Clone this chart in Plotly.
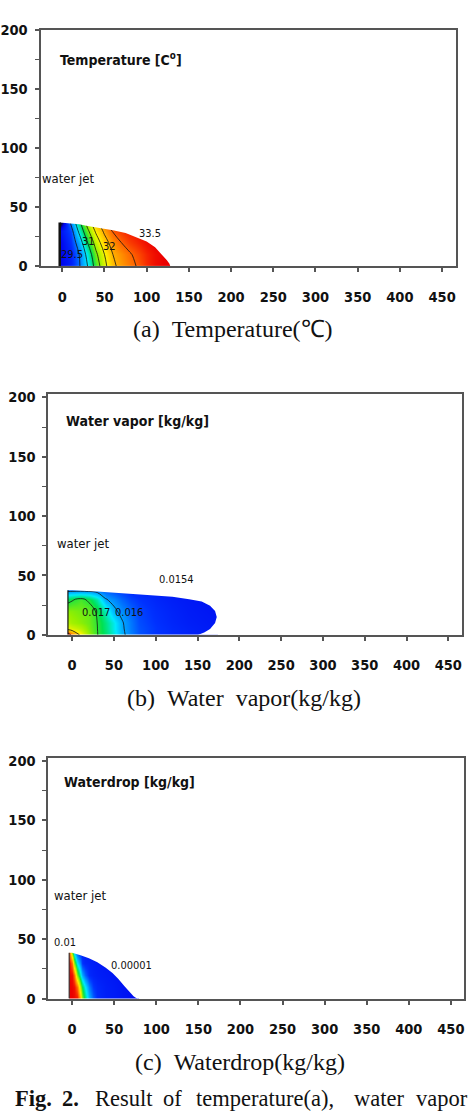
import plotly.graph_objects as go

# ---------------- data ----------------
# (a) temperature field [C]
temp_x = [-3, 10, 20, 30, 40, 50, 60, 70, 80, 90, 100, 110, 120, 130]
temp_y = [0, 10, 20, 30, 40]
temp_z = [
    [29.4, 29.6, 29.95, 30.5, 31.2, 31.85, 32.4, 32.65, 32.85, 33.05, 33.3, 33.5, 33.6, 33.7],
    [29.4, 29.6, 30.0, 30.65, 31.4, 32.0, 32.5, 32.73, 32.95, 33.15, 33.35, 33.5, 33.6, 33.7],
    [29.4, 29.7, 30.2, 31.0, 31.7, 32.3, 32.7, 33.0, 33.2, 33.35, 33.5, 33.6, 33.7, 33.8],
    [29.5, 29.8, 30.6, 31.4, 32.1, 32.6, 33.05, 33.25, 33.4, 33.5, 33.6, 33.7, 33.7, 33.7],
    [28.8, 30.15, 31.0, 31.85, 32.5, 33.0, 33.3, 33.45, 33.55, 33.6, 33.6, 33.7, 33.7, 33.7],
]
temp_env_x = [-3, 10, 20, 30, 45, 60, 75, 90, 100, 110, 118, 124, 127, 128]
temp_env_y = [37, 36.5, 35.5, 34, 32.5, 30.5, 28, 24, 21, 16, 10, 5, 2, 0]
temp_labels = ["29.5", "31", "32", "33.5"]
temp_label_x = [12, 31.5, 56, 104]
temp_label_y = [10, 21, 17, 27.5]

# (b) water vapor field [kg/kg]
vap_x = [-5, 0, 10, 20, 30, 40, 50, 60, 70, 80, 100, 120, 140, 160, 175]
vap_y = [0, 5, 10, 20, 30, 38]
vap_z = [
    [0.0195, 0.0188, 0.0179, 0.01735, 0.01702, 0.01675, 0.01645, 0.01608, 0.01585, 0.01568, 0.01555, 0.01547, 0.01542, 0.01538, 0.01536],
    [0.0178, 0.0177, 0.01752, 0.01725, 0.01701, 0.01672, 0.0164, 0.01605, 0.01583, 0.01567, 0.01555, 0.01547, 0.01542, 0.01538, 0.01536],
    [0.0175, 0.0174, 0.0173, 0.0172, 0.0170, 0.0167, 0.0164, 0.01603, 0.01582, 0.01565, 0.01553, 0.01545, 0.0154, 0.01537, 0.01535],
    [0.0173, 0.01728, 0.01722, 0.01718, 0.01695, 0.0165, 0.01607, 0.0159, 0.01575, 0.01562, 0.0155, 0.01543, 0.01538, 0.01535, 0.01533],
    [0.01685, 0.01695, 0.01708, 0.01693, 0.0166, 0.01602, 0.0159, 0.01575, 0.01562, 0.01555, 0.01546, 0.0154, 0.01536, 0.01533, 0.01531],
    [0.0158, 0.0158, 0.0158, 0.0158, 0.01575, 0.0157, 0.01562, 0.01555, 0.01548, 0.01543, 0.0154, 0.01536, 0.01533, 0.0153, 0.0153],
]
vap_env_x = [-5, 0, 30, 60, 90, 120, 140, 155, 165, 171, 173, 171, 165, 158, 151]
vap_env_y = [37.5, 37.5, 36.5, 35, 33.5, 32, 30, 28, 24.5, 20, 15, 10, 5, 2, 0]
vap_labels = ["0.0154", "0.017", "0.016"]
vap_label_x = [125, 29, 68]
vap_label_y = [46.5, 19, 19]

# (c) waterdrop field, log10 of [kg/kg]
drop_x = [-3.5, 0, 3, 6, 9, 12, 15, 20, 25, 30, 40, 50, 60, 70, 80]
drop_y = [0, 10, 20, 30, 40]
drop_logz = [
    [-1.95, -2.0, -2.05, -2.12, -2.85, -3.65, -4.12, -4.58, -4.85, -5.03, -5.1, -5.12, -5.15, -5.18, -5.2],
    [-1.97, -2.03, -2.1, -2.55, -3.5, -4.0, -4.38, -4.76, -4.98, -5.05, -5.1, -5.12, -5.15, -5.18, -5.2],
    [-2.0, -2.1, -2.55, -3.7, -4.25, -4.62, -4.85, -5.04, -5.08, -5.1, -5.12, -5.14, -5.16, -5.18, -5.2],
    [-2.05, -2.6, -3.7, -4.4, -4.72, -5.0, -5.06, -5.08, -5.1, -5.12, -5.14, -5.16, -5.18, -5.2, -5.2],
    [-2.5, -3.9, -4.6, -4.95, -5.05, -5.08, -5.1, -5.12, -5.14, -5.16, -5.18, -5.2, -5.2, -5.2, -5.2],
]
drop_env_x = [-3.5, 0, 10, 20, 30, 40, 48, 55, 62, 68, 73, 77]
drop_env_y = [38.5, 38.5, 36.5, 34, 30.5, 26, 21.5, 16.5, 10.5, 5.5, 2, 0]
drop_labels = ["0.01", "0.00001"]
drop_label_x = [-8, 70]
drop_label_y = [47.3, 27.4]

x_ticks = [0, 50, 100, 150, 200, 250, 300, 350, 400, 450]
y_ticks = [0, 50, 100, 150, 200]

# ---------------- styling ----------------
rainbow = [
    [0.00, 'rgb(10,10,70)'],
    [0.04, 'rgb(0,0,235)'],
    [0.12, 'rgb(0,50,255)'],
    [0.20, 'rgb(0,140,255)'],
    [0.30, 'rgb(0,235,255)'],
    [0.41, 'rgb(0,225,80)'],
    [0.52, 'rgb(150,240,0)'],
    [0.64, 'rgb(255,245,0)'],
    [0.75, 'rgb(255,175,0)'],
    [0.86, 'rgb(255,100,0)'],
    [0.95, 'rgb(245,30,0)'],
    [1.00, 'rgb(235,0,0)'],
]

W, H = 470, 1111
SANS = "DejaVu Sans Condensed, sans-serif"
TICK_FONT = dict(family=SANS, size=14.5, color="#111", weight="bold")
SMALL_FONT = dict(family=SANS, size=11, color="#111")
JET_FONT = dict(family=SANS, size=13, color="#111")
TITLE_FONT = dict(family=SANS, size=14, color="#111", weight="bold")
CAP_FONT = dict(family="Liberation Serif", size=24, color="#111")
FIG_FONT = dict(family="Liberation Serif", size=22.5, color="#111")

fig = go.Figure()

panels = [
    dict(s="", box=(35, 456, 22, 262), xr=[-25.7, 466.7], yr=[0, 200]),
    dict(s="2", box=(43, 462, 392, 636), xr=[-28.3, 466.5], yr=[0, 202.5]),
    dict(s="3", box=(43, 464, 761, 1005), xr=[-28.1, 465.7], yr=[0, 202.5]),
]


def mask_trace(ex, ey, xa, ya, x_lo, x_hi, y_hi):
    mx = [x_lo, ex[0]] + list(ex) + [ex[-1], x_hi, x_hi, x_lo]
    my = [-5, -5] + list(ey) + [-5, -5, y_hi, y_hi]
    return go.Scatter(x=mx, y=my, mode='lines', fill='toself', fillcolor='white',
                      line=dict(width=0, color='white'), xaxis=xa, yaxis=ya,
                      hoverinfo='skip', showlegend=False)


def nozzle(ex, ey, xa, ya, w):
    return go.Scatter(x=[ex[0], ex[0]], y=[0, ey[0]], mode='lines',
                      line=dict(color='#111', width=w), xaxis=xa, yaxis=ya,
                      hoverinfo='skip', showlegend=False)


# (a)
fig.add_trace(go.Contour(x=temp_x, y=temp_y, z=temp_z, xaxis='x', yaxis='y',
                         colorscale=rainbow, zmin=29.2, zmax=33.6, showscale=False,
                         contours=dict(coloring='heatmap', start=30, end=33, size=0.5),
                         line=dict(color='#111', width=0.8), hoverinfo='skip'))
fig.add_trace(mask_trace(temp_env_x, temp_env_y, 'x', 'y', -20, 200, 60))
fig.add_trace(nozzle(temp_env_x, temp_env_y, 'x', 'y', 2.5))

# (b)
fig.add_trace(go.Contour(x=vap_x, y=vap_y, z=vap_z, xaxis='x2', yaxis='y2',
                         colorscale=rainbow, zmin=0.015, zmax=0.0195, showscale=False,
                         contours=dict(coloring='heatmap', start=0.016, end=0.019, size=0.001),
                         line=dict(color='#111', width=0.8), hoverinfo='skip'))
fig.add_trace(mask_trace(vap_env_x, vap_env_y, 'x2', 'y2', -20, 250, 60))
fig.add_trace(nozzle(vap_env_x, vap_env_y, 'x2', 'y2', 1.2))

# (c)
fig.add_trace(go.Contour(x=drop_x, y=drop_y, z=drop_logz, xaxis='x3', yaxis='y3',
                         colorscale=rainbow, zmin=-5.4, zmax=-2.0, showscale=False,
                         contours=dict(coloring='heatmap', showlines=False),
                         line=dict(width=0), hoverinfo='skip'))
fig.add_trace(mask_trace(drop_env_x, drop_env_y, 'x3', 'y3', -20, 150, 60))
fig.add_trace(nozzle(drop_env_x, drop_env_y, 'x3', 'y3', 1.0))

layout = dict(width=W, height=H, margin=dict(l=0, r=0, t=0, b=0),
              paper_bgcolor='white', plot_bgcolor='white', showlegend=False)

for p in panels:
    l, r, t, b = p['box']
    xd = [l / W, r / W]
    yd = [1 - b / H, 1 - t / H]
    s = p['s']
    layout['xaxis' + s] = dict(domain=xd, range=p['xr'], anchor='y' + s,
                               tickvals=x_ticks, ticktext=[str(v) for v in x_ticks],
                               ticks='outside', ticklen=4, tickwidth=1.5, tickcolor='#555',
                               ticklabelstandoff=12, tickfont=TICK_FONT,
                               showline=True, linewidth=2, linecolor='#555', mirror=True,
                               showgrid=False, zeroline=False, fixedrange=True)
    layout['yaxis' + s] = dict(domain=yd, range=p['yr'], anchor='x' + s,
                               tickvals=y_ticks, ticktext=[str(v) for v in y_ticks],
                               ticks='outside', ticklen=4, tickwidth=1.5, tickcolor='#555',
                               ticklabelstandoff=4, tickfont=TICK_FONT,
                               minor=dict(ticks='outside', ticklen=4, dtick=25, tickcolor='#555', tickwidth=1.2),
                               showline=True, linewidth=2, linecolor='#555', mirror=True,
                               showgrid=False, zeroline=False, fixedrange=True)

ann = []
ann.append(dict(text="Temperature [C<sup>o</sup>]", x=-4.7, y=175, xref='x', yref='y',
                xanchor='left', yanchor='middle', showarrow=False, font=TITLE_FONT))
ann.append(dict(text="Water vapor [kg/kg]", x=-9.4, y=180, xref='x2', yref='y2',
                xanchor='left', yanchor='middle', showarrow=False, font=TITLE_FONT))
ann.append(dict(text="Waterdrop [kg/kg]", x=-11.7, y=182.6, xref='x3', yref='y3',
                xanchor='left', yanchor='middle', showarrow=False, font=TITLE_FONT))
for xr_, yr_, xx, yy in [('x', 'y', 7, 74), ('x2', 'y2', 13.6, 77), ('x3', 'y3', 9.4, 87)]:
    ann.append(dict(text="water jet", x=xx, y=yy, xref=xr_, yref=yr_, showarrow=False,
                    font=JET_FONT))

for t, xx, yy in zip(temp_labels, temp_label_x, temp_label_y):
    ann.append(dict(text=t, x=xx, y=yy, xref='x', yref='y', showarrow=False, font=SMALL_FONT))
for t, xx, yy in zip(vap_labels, vap_label_x, vap_label_y):
    ann.append(dict(text=t, x=xx, y=yy, xref='x2', yref='y2', showarrow=False, font=SMALL_FONT))
for t, xx, yy in zip(drop_labels, drop_label_x, drop_label_y):
    ann.append(dict(text=t, x=xx, y=yy, xref='x3', yref='y3', showarrow=False, font=SMALL_FONT))

nb = "\u00a0"
for text, cx, cy in [("(a)" + nb * 2 + "Temperature(℃)", 230, 326),
                     ("(b)" + nb * 2 + "Water" + nb * 2 + "vapor(kg/kg)", 241, 700),
                     ("(c)" + nb * 2 + "Waterdrop(kg/kg)", 237, 1069)]:
    ann.append(dict(text=text, x=cx / W, y=1 - cy / H, xref='paper', yref='paper',
                    xanchor='center', yanchor='middle', showarrow=False, font=CAP_FONT))

for word, lx in [("<b>Fig.</b>", 7), ("<b>2.</b>", 55), ("Result", 88), ("of", 157),
                 ("temperature(a),", 190), ("water", 350), ("vapor", 413)]:
    ann.append(dict(text=word, x=lx / W, y=1 - 1106 / H, xref='paper', yref='paper',
                    xanchor='left', yanchor='middle', showarrow=False, font=FIG_FONT))

layout['annotations'] = ann
fig.update_layout(**layout)
fig.write_html("out.html")
